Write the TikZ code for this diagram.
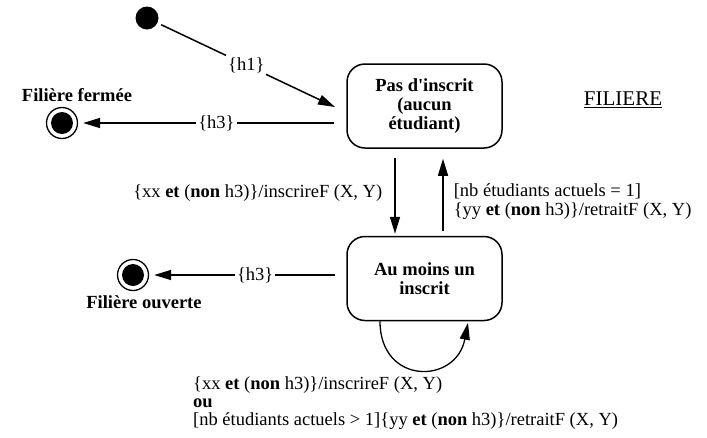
\documentclass[tikz,border=0pt]{standalone}
\usepackage{fontspec}
\setmainfont{Liberation Serif}
\usetikzlibrary{arrows.meta,calc}
\begin{document}
\begin{tikzpicture}[x=1pt,y=-1pt,
  every node/.style={font=\fontsize{18.5}{19}\selectfont},
  statebox/.style={draw, line width=1.5pt, rounded corners=18pt, minimum width=155pt, minimum height=84pt, align=center, font=\fontsize{18.5}{19}\selectfont\bfseries},
  initdot/.style={circle, fill=black, minimum size=23pt, inner sep=0pt},
  finalst/.style={circle, draw, line width=1.3pt, minimum size=31pt, inner sep=0pt, path picture={\fill[black] (path picture bounding box.center) circle (11pt);}},
  trans/.style={line width=1.5pt, -{Triangle[length=17pt,width=10pt]}},
  onlbl/.style={fill=white, inner sep=2pt},
  boldlbl/.style={font=\fontsize{18.5}{19}\selectfont\bfseries, inner sep=0pt},
  sidelbl/.style={inner sep=0pt, align=left}
]
\useasboundingbox (0,0) rectangle (707,437);

% states
\node[statebox] (pas) at (424.5,106) {Pas d\textquotesingle inscrit\\(aucun\\étudiant)};
\node[statebox] (au) at (424.5,278.5) {Au moins un\\inscrit};
\node[initdot] (init) at (147,18) {};
\node[finalst] (ff) at (62,123) {};
\node[finalst] (fo) at (133,275) {};
\node[boldlbl] (lff) at (77,95) {Filière fermée};
\node[boldlbl] (lfo) at (144,302) {Filière ouverte};
\node[inner sep=0pt, font=\fontsize{21}{22}\selectfont] (title) at (623,100) {\underline{FILIERE}};

% transitions
\coordinate (t1) at (335,107);
\draw[trans, shorten <=4pt] (init) -- node[onlbl]{\{h1\}} (t1);

\draw[trans, shorten >=5pt] ($(pas.west|-ff)+(-12,0)$) -- node[onlbl, pos=0.46]{\{h3\}} (ff);
\draw[trans, shorten >=5pt] ($(au.west|-fo)+(-11,0)$) -- node[onlbl, pos=0.43]{\{h3\}} (fo);

\draw[trans] ($(pas.south)+(-29.5,9)$) -- node[sidelbl, pos=0.46, anchor=east, xshift=-12pt]
  {\{xx \textbf{et} (\textbf{non} h3)\}/inscrireF (X, Y)} ($(au.north)+(-29.5,-2)$);

\draw[trans] ($(au.north)+(18.5,-5)$) -- node[sidelbl, pos=0.4, anchor=west, xshift=10pt]
  {{[}nb étudiants actuels = 1{]}\\\{yy \textbf{et} (\textbf{non} h3)\}/retraitF (X, Y)} ($(pas.south)+(18.5,10)$);

% self loop
\draw[trans, line width=1.3pt] ($(au.south)+(-44.5,0)$) .. controls +(0,64) and +(-12,62) .. ($(au.south)+(43.5,1.5)$);
\node[sidelbl, anchor=west, font=\fontsize{18.5}{18}\selectfont] (loopl) at (193,403)
  {\{xx \textbf{et} (\textbf{non} h3)\}/inscrireF (X, Y)\\\textbf{ou}\\{[}nb étudiants actuels > 1{]}\{yy \textbf{et} (\textbf{non} h3)\}/retraitF (X, Y)};
\end{tikzpicture}
\end{document}
